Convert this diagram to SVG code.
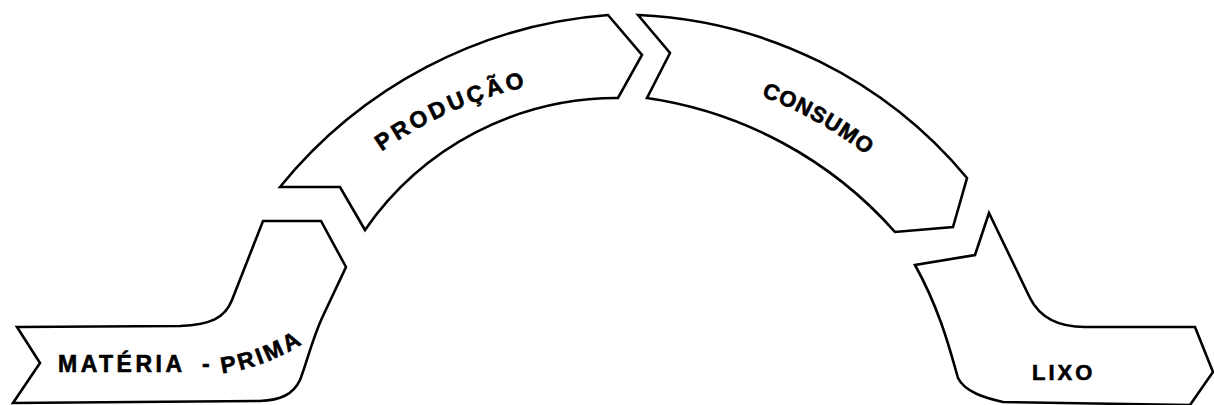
<svg xmlns="http://www.w3.org/2000/svg" width="1214" height="405" viewBox="0 0 1214 405">
<style>
.band{fill:#fff;stroke:#000;stroke-width:2.6;stroke-linejoin:miter}
.lbl{font-family:"Liberation Sans",Arial,sans-serif;font-weight:bold;font-size:23px;fill:#000;stroke:#000;stroke-width:0.6}
</style>
<defs>
<path id="pProd" d="M372,158.5 A414,414 0 0 1 600,76.5"/>
<path id="pCons" d="M750,91.9 A422,422 0 0 1 900,183.4"/>
<path id="pPrima" d="M214,374 Q266,370 314,336"/>
</defs>
<rect width="1214" height="405" fill="#fff"/>
<g id="materia-prima">
<path class="band" d="M17,327 L180,326 C210,325 225,318 232,300 L263,221 L321,221 L346,267 L322,318 C312,340 306,365 300,380 C293,395 280,400 260,401 L13,403 L40,363 Z"/>
<text class="lbl" x="58" y="372" letter-spacing="3.5">MATÉRIA</text>
<text class="lbl" x="202" y="372">-</text>
<text class="lbl" letter-spacing="3"><textPath href="#pPrima" startOffset="8">PRIMA</textPath></text>
</g>
<g id="producao">
<path class="band" d="M280,187 A468,468 0 0 1 608,15 L642,55 L618,98 A306,306 0 0 0 365,230 L340,187 Z"/>
<text class="lbl" letter-spacing="3.4"><textPath href="#pProd" startOffset="12">PRODUÇÃO</textPath></text>
</g>
<g id="consumo">
<path class="band" d="M638,15 A453,453 0 0 1 967,178 L953,227 L895,232 A410,410 0 0 0 647,98 L670,53 Z"/>
<text class="lbl" letter-spacing="1" style="font-size:22px"><textPath href="#pCons" startOffset="12">CONSUMO</textPath></text>
</g>
<g id="lixo">
<path class="band" d="M989,213 L1030,298 C1040,318 1060,327 1085,327 L1195,327 L1213,372 L1190,405 L1003,402 C985,398 965,392 958,378 C950,350 940,310 915,265 L975,255 Z"/>
<text class="lbl" x="1032" y="380" letter-spacing="3" style="font-size:22px">LIXO</text>
</g>
<g id="connectors"/>
</svg>
